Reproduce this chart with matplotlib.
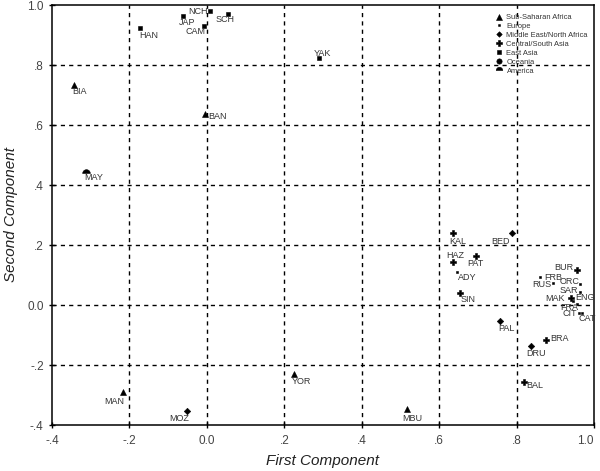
import matplotlib
matplotlib.use("Agg")
import matplotlib.pyplot as plt
from matplotlib.path import Path

plt.rcParams["font.family"] = ["Liberation Sans", "DejaVu Sans"]

groups = ["Sub-Saharan Africa", "Europe", "Middle East/North Africa",
          "Central/South Asia", "East Asia", "Oceania", "America"]

ssa_names = ["BIA", "BAN", "MAN", "YOR", "MBU"]
ssa_x = [-0.343, -0.005, -0.217, 0.225, 0.516]
ssa_y = [0.733, 0.637, -0.290, -0.230, -0.347]

eur_names = ["ADY", "FRB", "RUS", "ORC", "SAR", "ENG", "FRA", "CIT", "CAT"]
eur_x = [0.645, 0.860, 0.895, 0.965, 0.965, 0.945, 0.955, 0.960, 0.968]
eur_y = [0.110, 0.093, 0.073, 0.070, 0.045, 0.013, 0.003, -0.025, -0.028]

me_names = ["BED", "PAL", "DRU", "MOZ"]
me_x = [0.787, 0.756, 0.836, -0.052]
me_y = [0.240, -0.053, -0.137, -0.353]

csa_names = ["KAL", "HAZ", "PAT", "SIN", "BUR", "MAK", "BRA", "BAL"]
csa_x = [0.635, 0.635, 0.694, 0.653, 0.957, 0.940, 0.877, 0.818]
csa_y = [0.240, 0.143, 0.163, 0.040, 0.117, 0.023, -0.117, -0.257]

ea_names = ["NCH", "SCH", "JAP", "CAM", "HAN", "YAK"]
ea_x = [0.008, 0.054, -0.062, -0.008, -0.173, 0.289]
ea_y = [0.980, 0.970, 0.963, 0.930, 0.923, 0.823]

oce_names = []
oce_x = []
oce_y = []

am_names = ["MAY"]
am_x = [-0.312]
am_y = [0.440]

xticks = [-0.4, -0.2, 0.0, 0.2, 0.4, 0.6, 0.8, 1.0]
xticklabels = ["-.4", "-.2", "0.0", ".2", ".4", ".6", ".8", "1.0"]
yticks = [-0.4, -0.2, 0.0, 0.2, 0.4, 0.6, 0.8, 1.0]
yticklabels = ["-.4", "-.2", "0.0", ".2", ".4", ".6", ".8", "1.0"]

# label placement (pixel offsets from marker, horizontal alignment)
label_style = {
    "BIA": (-2, -6, "left"), "BAN": (3, -3, "left"), "MAN": (1, -9, "right"),
    "YOR": (-2, -8, "left"), "MBU": (-4, -9, "left"),
    "ADY": (1, -5, "left"), "FRB": (4, 0, "left"), "RUS": (-2, -1, "right"),
    "ORC": (-1, 3, "right"), "SAR": (-2, 1, "right"), "ENG": (3, 4, "left"),
    "FRA": (2, -3, "right"), "CIT": (-2, -1, "right"), "CAT": (-3, -5, "left"),
    "BED": (-2, -8, "right"), "PAL": (-1, -8, "left"), "DRU": (-4, -7, "left"),
    "MOZ": (2, -8, "right"),
    "KAL": (-3, -8, "left"), "HAZ": (-6, 7, "left"), "PAT": (-8, -7, "left"),
    "SIN": (1, -7, "left"), "BUR": (-4, 2, "right"), "MAK": (-6, 0, "right"),
    "BRA": (4, 2, "left"), "BAL": (3, -3, "left"),
    "NCH": (-2, 0, "right"), "SCH": (-12, -5, "left"), "JAP": (-4, -6, "left"),
    "CAM": (2, -5, "right"), "HAN": (-1, -7, "left"), "YAK": (-5, 5, "left"),
    "MAY": (-2, -5, "left"),
}

dome = Path.wedge(0, 180)

series = [
    (groups[0], ssa_names, ssa_x, ssa_y, dict(marker="^", ms=4.5)),
    (groups[1], eur_names, eur_x, eur_y, dict(marker="s", ms=1.6)),
    (groups[2], me_names, me_x, me_y, dict(marker="D", ms=3.3)),
    (groups[3], csa_names, csa_x, csa_y, dict(marker="P", ms=4.5)),
    (groups[4], ea_names, ea_x, ea_y, dict(marker="s", ms=3.5)),
    (groups[5], oce_names, oce_x, oce_y, dict(marker="o", ms=4.5)),
    (groups[6], am_names, am_x, am_y, dict(marker=dome, ms=5.5)),
]

fig = plt.figure(figsize=(6.0, 4.71), dpi=100)
ax = fig.add_axes([52 / 600, 46 / 471, 542 / 600, 420 / 471])
ax.set_xlim(-0.4, 1.0)
ax.set_ylim(-0.4, 1.0)

for g in [-0.2, 0.0, 0.2, 0.4, 0.6, 0.8]:
    ax.axvline(g, color="black", lw=1.0, ls=(0, (3, 3)), zorder=1)
    ax.axhline(g, color="black", lw=1.0, ls=(0, (3, 3)), zorder=1)

for name, names, xs, ys, st in series:
    ax.plot(xs, ys, ls="none", color="black", mec="black", mew=0.4,
            label=name, zorder=3, **st)
    for n, x, y in zip(names, xs, ys):
        dx, dy, ha = label_style[n]
        ax.annotate(n, (x, y), xytext=(dx, dy), textcoords="offset pixels",
                    ha=ha, va="center", fontsize=6.5, color="#333333",
                    zorder=4)

ax.set_xticks(xticks)
ax.set_xticklabels(xticklabels)
ax.set_yticks(yticks)
ax.set_yticklabels(yticklabels)
ax.tick_params(axis="both", direction="inout", length=5, width=1,
               labelsize=8.5, labelcolor="#444444", color="black")
ax.tick_params(axis="x", pad=5)
ax.get_xticklabels()[-1].set_ha("right")
for s in ax.spines.values():
    s.set_linewidth(1.1)
    s.set_color("black")

ax.set_xlabel("First Component", fontsize=11, style="italic",
              color="#222222")
ax.set_ylabel("Second Component", fontsize=11, style="italic",
              color="#222222")
ax.yaxis.set_label_coords(-0.062, 0.5)
ax.xaxis.set_label_coords(0.5, -0.068)

leg = ax.legend(loc="upper right", bbox_to_anchor=(1.0, 0.993),
                frameon=False, fontsize=5.4, handlelength=0.6,
                handletextpad=0.7, labelspacing=0.22, borderpad=0.3,
                markerscale=0.85)
for t in leg.get_texts():
    t.set_color("#333333")

fig.savefig("out.png", dpi=100)
